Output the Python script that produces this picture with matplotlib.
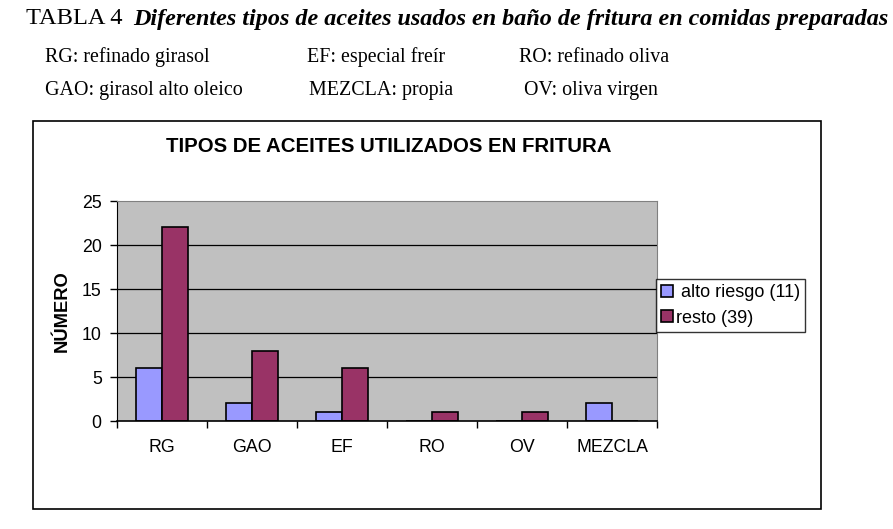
import numpy as np
import matplotlib.pyplot as plt
from matplotlib.patches import Rectangle

# data
categorias = ["RG", "GAO", "EF", "RO", "OV", "MEZCLA"]
alto_riesgo = [6, 2, 1, 0, 0, 2]
resto = [22, 8, 6, 1, 1, 0]
serie_nombres = [" alto riesgo (11)", "resto (39)"]
y_ticks = [0, 5, 10, 15, 20, 25]

# abbreviations printed above the chart (text, x pixel, row)
abreviaturas = [("RG: refinado girasol", 45, 0), ("EF: especial freír", 307, 0),
                ("RO: refinado oliva", 519, 0), ("GAO: girasol alto oleico", 45, 1),
                ("MEZCLA: propia", 309, 1), ("OV: oliva virgen", 524, 1)]

W, H = 893, 529
plt.rcParams['font.family'] = ['Liberation Sans', 'DejaVu Sans']

fig = plt.figure(figsize=(W / 100, H / 100), dpi=100)

def fx(px):
    return px / W

def fy(py):
    return 1 - py / H

# page header
serif = ['Liberation Serif', 'DejaVu Serif']
fig.text(fx(26), fy(19), "TABLA 4", family=serif, fontsize=17.6, va='center', ha='left')
fig.text(fx(133), fy(19), "Diferentes tipos de aceites usados en baño de fritura en comidas preparadas",
         family=serif, fontsize=17.4, fontweight='bold', fontstyle='italic', va='center', ha='left')
row_y = [57, 91]
for txt, x, r in abreviaturas:
    fig.text(fx(x), fy(row_y[r]), txt, family=serif, fontsize=14.4, va='center', ha='left')

# chart frame
fig.patches.append(Rectangle((fx(33), fy(509)), fx(821) - fx(33), fy(121) - fy(509),
                             transform=fig.transFigure, fill=False, edgecolor='black', lw=1.2))

fig.text(fx(389), fy(146), "TIPOS DE ACEITES UTILIZADOS EN FRITURA", fontsize=14.7,
         fontweight='bold', ha='center', va='center')

ax = fig.add_axes([fx(117), fy(421), fx(657) - fx(117), fy(201) - fy(421)])
ax.set_facecolor('#C0C0C0')

x = np.arange(len(categorias))
w = 0.29
b1 = ax.bar(x - w / 2, alto_riesgo, w, color='#9999FF', edgecolor='black', lw=1.2,
            label=serie_nombres[0], zorder=3)
b2 = ax.bar(x + w / 2, resto, w, color='#993366', edgecolor='black', lw=1.2,
            label=serie_nombres[1], zorder=3)

ax.set_xlim(-0.5, len(categorias) - 0.5)
ax.set_ylim(0, 25)
ax.set_yticks(y_ticks)
ax.set_yticklabels([str(v) for v in y_ticks], fontsize=12.8)
ax.tick_params(axis='y', length=5, width=1, pad=6, direction='out')

ax.set_xticks(x)
ax.set_xticklabels(categorias, fontsize=12.8)
ax.set_xticks(np.arange(len(categorias) + 1) - 0.5, minor=True)
ax.tick_params(axis='x', which='major', length=0, pad=13)
ax.tick_params(axis='x', which='minor', length=5, width=1, direction='out')

for v in y_ticks[1:-1]:
    ax.axhline(v, color='black', lw=0.9, zorder=1)

ax.spines['left'].set_color('black')
ax.spines['bottom'].set_color('black')
ax.spines['bottom'].set_linewidth(1.2)
ax.spines['top'].set_color('#808080')
ax.spines['right'].set_color('#808080')
ax.spines['bottom'].set_zorder(4)

fig.text(fx(62), fy(311), "NÚMERO", rotation=90, fontsize=13.2, fontweight='bold',
         ha='center', va='center')

leg = fig.legend(handles=[b1, b2], loc='upper left', bbox_to_anchor=(fx(656), fy(279)),
                 bbox_transform=fig.transFigure, fontsize=13, frameon=True, fancybox=False,
                 handlelength=0.65, handleheight=0.65, handletextpad=0.15, borderpad=0.3,
                 labelspacing=0.45, borderaxespad=0)
leg.get_frame().set_edgecolor('black')
leg.get_frame().set_linewidth(1)

fig.savefig("out.png", dpi=100)
